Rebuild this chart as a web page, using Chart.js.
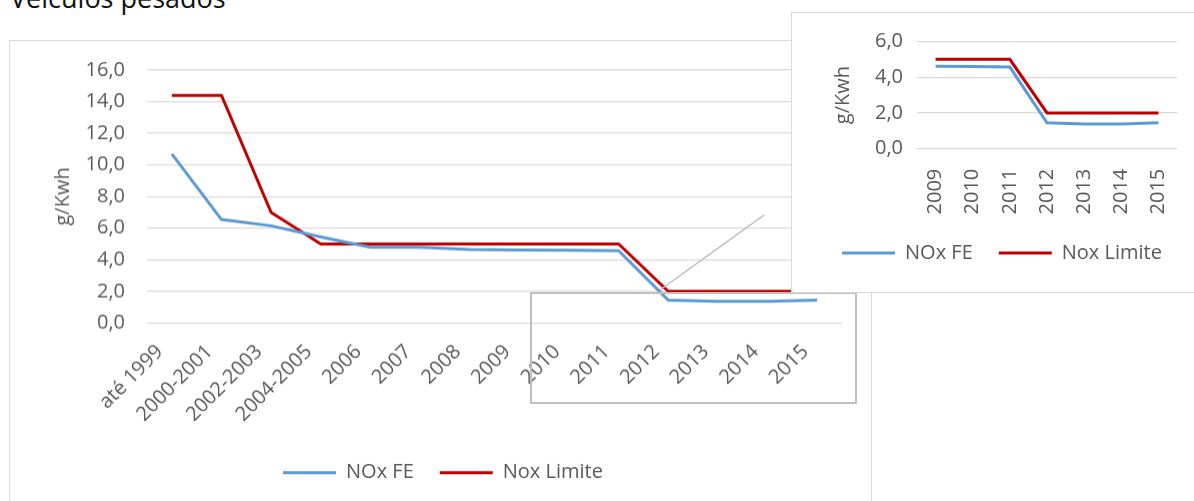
<!DOCTYPE html>
<html>
<head>
<meta charset="utf-8">
<script src="https://cdn.jsdelivr.net/npm/chart.js@4.4.0/dist/chart.umd.min.js"></script>
<style>
  body { margin: 0; width: 1194px; height: 501px; overflow: hidden; background: #fff; position: relative; font-family: 'Open Sans', sans-serif; }
  #titulo { position: absolute; left: 10px; top: -16px; font-size: 27px; line-height: 27px; color: #111; white-space: nowrap; }
  #mainBox { position: absolute; left: 9px; top: 40px; width: 861px; height: 480px; border: 1px solid #d9d9d9; }
  #mainWrap { position: absolute; left: 0; top: -4.7px; width: 860px; height: 464.7px; }
  #zoomRect { position: absolute; left: 530px; top: 292px; width: 327px; height: 112px; border: 2px solid #bfbfbf; box-sizing: border-box; }
  #conector { position: absolute; left: 0; top: 0; }
  #insetBox { position: absolute; left: 791px; top: 12px; width: 430px; height: 279px; border: 1px solid #d9d9d9; background: #fff; }
  #insetWrap { position: absolute; left: 0; top: 0; width: 420px; height: 278px; }
</style>
</head>
<body>
<div id="titulo">Veículos pesados</div>
<div id="mainBox"><div id="mainWrap"><canvas id="mainChart"></canvas></div></div>
<div id="zoomRect"></div>
<svg id="conector" width="1194" height="501"><line x1="660" y1="290" x2="764" y2="215" stroke="#bfbfbf" stroke-width="1.5"/></svg>
<div id="insetBox"><div id="insetWrap"><canvas id="insetChart"></canvas></div></div>

<script>
// Dados (g/Kwh)
const categorias = ['até 1999', '2000-2001', '2002-2003', '2004-2005', '2006', '2007', '2008', '2009', '2010', '2011', '2012', '2013', '2014', '2015'];
const noxFE = [10.7, 6.55, 6.15, 5.45, 4.8, 4.8, 4.65, 4.62, 4.6, 4.57, 1.45, 1.38, 1.38, 1.45];
const noxLimite = [14.4, 14.4, 7.0, 5.0, 5.0, 5.0, 5.0, 5.0, 5.0, 5.0, 2.0, 2.0, 2.0, 2.0];

// detalhe 2009-2015
const categoriasDetalhe = ['2009', '2010', '2011', '2012', '2013', '2014', '2015'];
const noxFEDetalhe = [4.62, 4.6, 4.57, 1.45, 1.38, 1.38, 1.45];
const noxLimiteDetalhe = [5.0, 5.0, 5.0, 2.0, 2.0, 2.0, 2.0];

const corTexto = '#595959';
const corGrade = '#d9d9d9';
const azul = '#5b9bd5';
const vermelho = '#c00000';
const fonte = { family: "'Open Sans', sans-serif", size: 20 };

Chart.defaults.font.family = fonte.family;
Chart.defaults.color = corTexto;

function fmt(v) { return v.toFixed(1).replace('.', ','); }

function serie(label, data, cor) {
    return {
        label: label,
        data: data,
        borderColor: cor,
        backgroundColor: cor,
        borderWidth: 3,
        pointRadius: 0,
        pointHoverRadius: 0,
        tension: 0,
        fill: false
    };
}

function legenda() {
    return {
        display: true,
        position: 'bottom',
        labels: {
            usePointStyle: true,
            pointStyle: 'line',
            usePointStyleWidth: true,
            pointStyleWidth: 53,
            padding: 26,
            color: corTexto,
            font: fonte
        }
    };
}

// Gráfico principal
new Chart(document.getElementById('mainChart').getContext('2d'), {
    type: 'line',
    data: {
        labels: categorias,
        datasets: [serie('NOx FE', noxFE, azul), serie('Nox Limite', noxLimite, vermelho)]
    },
    options: {
        responsive: true,
        maintainAspectRatio: false,
        animation: false,
        layout: { padding: { top: 20, right: 28, bottom: 9, left: 34 } },
        plugins: { legend: legenda(), tooltip: { enabled: false } },
        scales: {
            x: {
                offset: true,
                grid: { display: false },
                border: { display: false },
                ticks: { autoSkip: false, minRotation: 45, maxRotation: 45, padding: 9, labelOffset: -12, color: corTexto, font: fonte },
                afterFit: (s) => { s.height = 113.3; }
            },
            y: {
                min: 0,
                max: 16,
                grid: { color: corGrade, lineWidth: 1.3, drawTicks: false },
                border: { display: false },
                ticks: { stepSize: 2, padding: 22, color: corTexto, font: fonte, callback: (v) => fmt(v) },
                title: { display: true, text: 'g/Kwh', color: corTexto, font: fonte, padding: { top: 7, bottom: 0 } },
                afterFit: (s) => { s.width = 103; }
            }
        }
    }
});

// Detalhe 2009-2015
new Chart(document.getElementById('insetChart').getContext('2d'), {
    type: 'line',
    data: {
        labels: categoriasDetalhe,
        datasets: [serie('NOx FE', noxFEDetalhe, azul), serie('Nox Limite', noxLimiteDetalhe, vermelho)]
    },
    options: {
        responsive: true,
        maintainAspectRatio: false,
        animation: false,
        layout: { padding: { top: 28.5, right: 0, bottom: 18, left: 0 } },
        plugins: { legend: legenda(), tooltip: { enabled: false } },
        scales: {
            x: {
                offset: true,
                grid: { display: false },
                border: { display: false },
                ticks: { autoSkip: false, minRotation: 90, maxRotation: 90, padding: 12, color: corTexto, font: fonte },
                afterFit: (s) => { s.height = 68.3; }
            },
            y: {
                min: 0,
                max: 6,
                grid: { color: corGrade, lineWidth: 1.3, drawTicks: false },
                border: { display: false },
                ticks: { stepSize: 2, padding: 14, color: corTexto, font: fonte, callback: (v) => fmt(v) },
                title: { display: true, text: 'g/Kwh', color: corTexto, font: fonte, padding: { top: 39, bottom: 0 } },
                afterFit: (s) => { s.width = 125; }
            },
            // margem direita vazia (mantém a legenda centrada como no original)
            margem: {
                position: 'right',
                display: true,
                grid: { display: false },
                border: { display: false },
                ticks: { display: false, padding: 0 },
                afterFit: (s) => { s.width = 35; }
            }
        }
    }
});
</script>
</body>
</html>
